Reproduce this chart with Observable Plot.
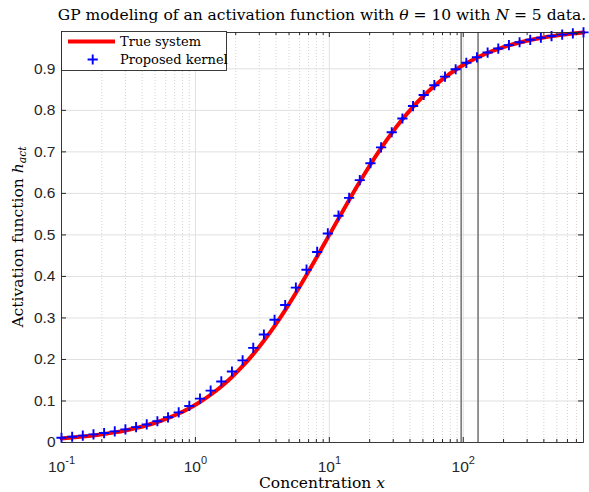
<!DOCTYPE html>
<html><head><meta charset="utf-8">
<script src="https://cdn.jsdelivr.net/npm/d3@7"></script>
<script src="https://cdn.jsdelivr.net/npm/@observablehq/plot@0.6"></script>
<style>html,body{margin:0;padding:0;background:#fff;} svg{display:block}</style>
</head><body><div id="chart"></div>
<script>
// Concentration x (log-spaced samples)
const concentration = [0.1000,0.1201,0.1442,0.1733,0.2081,0.2499,0.3001,0.3605,0.4330,0.5200,
  0.6245,0.7500,0.9008,1.0819,1.2994,1.5606,1.8743,2.2510,2.7035,3.2468,
  3.8994,4.6833,5.6247,6.7553,8.1131,9.7441,11.703,14.056,16.881,20.274,
  24.350,29.245,35.124,42.185,50.665,60.850,73.082,87.774,105.42,126.61,
  152.06,182.63,219.35,263.44,316.40,380.00,456.39,548.14,658.34,790.68];
// True system (red line)
const trueSystem = [0.0099,0.0119,0.0142,0.0170,0.0204,0.0244,0.0291,0.0348,0.0415,0.0494,
  0.0588,0.0698,0.0826,0.0976,0.1150,0.1350,0.1579,0.1837,0.2128,0.2451,
  0.2805,0.3190,0.3600,0.4032,0.4479,0.4935,0.5392,0.5843,0.6280,0.6697,
  0.7089,0.7452,0.7784,0.8084,0.8352,0.8589,0.8796,0.8977,0.9134,0.9268,
  0.9383,0.9481,0.9564,0.9634,0.9694,0.9744,0.9786,0.9821,0.9850,0.9875];
// Proposed kernel (blue crosses)
const proposedKernel = [0.0115,0.0138,0.0166,0.0195,0.0228,0.0268,0.0315,0.0370,0.0435,0.0512,
  0.0607,0.0725,0.0880,0.1056,0.1250,0.1470,0.1709,0.1977,0.2278,0.2601,
  0.2955,0.3310,0.3730,0.4162,0.4589,0.5035,0.5462,0.5893,0.6320,0.6727,
  0.7109,0.7472,0.7804,0.8104,0.8370,0.8606,0.8812,0.8990,0.9145,0.9278,
  0.9392,0.9489,0.9571,0.9640,0.9699,0.9748,0.9790,0.9824,0.9853,0.9877];
// Vertical reference lines
const markerLines = [96.5, 129];

const yTicks = [0,0.1,0.2,0.3,0.4,0.5,0.6,0.7,0.8,0.9];
const yTickLabels = ["0","0.1","0.2","0.3","0.4","0.5","0.6","0.7","0.8","0.9"];
const xMajorTicks = [0.1,1,10,100];
const xTickBase = ["10","10","10","10"];
const xTickExp = ["-1","0","1","2"];
const xMinorTicks = [0.2,0.3,0.4,0.5,0.6,0.7,0.8,0.9,2,3,4,5,6,7,8,9,20,30,40,50,60,70,80,90,200,300,400,500,600,700];

const titleParts = [["GP modeling of an activation function with ",""],["θ","i"],[" = 10 with ",""],["N","i"],[" = 5 data.",""]];
const xLabelParts = [["Concentration ",""],["x","i"]];
const yLabelParts = [["Activation function ",""],["h","i"],["act","sub"]];
const legendLabels = ["True system","Proposed kernel"];

const rows = concentration.map((x,i)=>({x, h: trueSystem[i], k: proposedKernel[i]}));

const plusSymbol = {draw(ctx, size){ const r = Math.sqrt(size/Math.PI); ctx.moveTo(-r,0); ctx.lineTo(r,0); ctx.moveTo(0,-r); ctx.lineTo(0,r); }};

const W = 589, H = 492, mL = 61, mR = 6, mT = 32, mB = 50;
const innerW = W - mL - mR, innerH = H - mT - mB;
const AX = "#262626";

const svg = Plot.plot({
  width: W, height: H,
  marginLeft: mL, marginRight: mR, marginTop: mT, marginBottom: mB,
  style: {background: "#fff", color: AX, fontFamily: "'Liberation Sans', Arial, sans-serif", fontSize: "15.5px"},
  x: {type: "log", axis: null, domain: [concentration[0], concentration[concentration.length-1]]},
  y: {domain: [0, d3.max(trueSystem)]},
  marks: [
    Plot.ruleX(xMinorTicks, {stroke: "#d2d2d2", strokeWidth: 1, strokeDasharray: "1,2"}),
    Plot.ruleX(xMajorTicks, {stroke: "#e0e0e0", strokeWidth: 1}),
    Plot.ruleY(yTicks.slice(1), {stroke: "#e0e0e0", strokeWidth: 1}),
    Plot.ruleX(markerLines, {stroke: "#808080", strokeWidth: 1.7}),
    Plot.line(rows, {x: "x", y: "h", stroke: "#ff0000", strokeWidth: 4, curve: "monotone-x"}),
    Plot.dot(rows, {x: "x", y: "k", symbol: plusSymbol, r: 5.1, stroke: "#0000ff", strokeWidth: 1.9, fill: "none"}),
    Plot.frame({stroke: AX, strokeWidth: 0.9}),
    Plot.tickX(xMajorTicks, {x: d=>d, insetTop: innerH-5, stroke: AX}),
    Plot.tickX(xMajorTicks, {x: d=>d, insetBottom: innerH-5, stroke: AX}),
    Plot.tickX(xMinorTicks, {x: d=>d, insetTop: innerH-3, stroke: AX}),
    Plot.tickX(xMinorTicks, {x: d=>d, insetBottom: innerH-3, stroke: AX}),
    Plot.tickY(yTicks, {y: d=>d, insetRight: innerW-5, stroke: AX}),
    Plot.tickY(yTicks, {y: d=>d, insetLeft: innerW-5, stroke: AX}),
    Plot.axisY({ticks: yTicks, tickSize: 0, tickPadding: 6, label: null, tickFormat: d => yTickLabels[yTicks.indexOf(d)]}),
    Plot.text(xMajorTicks, {x: d=>d, frameAnchor: "bottom", dy: 29, lineAnchor: "bottom", textAnchor: "middle",
      text: d => xTickBase[xMajorTicks.indexOf(d)]})
  ]
});
document.getElementById("chart").appendChild(svg);

const S = d3.select(svg);
// superscripts on x tick labels
S.selectAll('g[aria-label="text"] text').each(function(d,i){
  const t = d3.select(this); t.text("");
  t.append("tspan").text(xTickBase[i]);
  t.append("tspan").attr("dy","-8").attr("font-size","11px").text(xTickExp[i]);
});

const SERIF = "'DejaVu Serif', serif";
function richText(g, parts, size){
  const t = g.append("text").attr("font-family", SERIF).attr("font-size", size+"px").attr("fill","#000");
  parts.forEach(([s,f])=>{
    const ts = t.append("tspan").text(s);
    if (f==="i") ts.attr("font-style","italic");
    if (f==="sub") ts.attr("font-style","italic").attr("font-size",(size*0.7)+"px").attr("dy","3");
  });
  return t;
}
const cx = mL + innerW/2;
richText(S, titleParts, 15.5).attr("x", cx).attr("y", 20).attr("text-anchor","middle");
richText(S, xLabelParts, 15.5).attr("x", cx).attr("y", 488).attr("text-anchor","middle");
richText(S, yLabelParts, 15.5).attr("text-anchor","middle").attr("transform", `translate(23,${mT+innerH/2}) rotate(-90)`);

// legend
const lg = S.append("g");
lg.append("rect").attr("x",61.5).attr("y",31.5).attr("width",165).attr("height",39).attr("fill","#fff").attr("stroke",AX).attr("stroke-width",0.9);
lg.append("line").attr("x1",68).attr("x2",115).attr("y1",41.5).attr("y2",41.5).attr("stroke","#ff0000").attr("stroke-width",4);
lg.append("path").attr("d","M87.6,59.5h10.2M92.7,54.4v10.2").attr("stroke","#0000ff").attr("stroke-width",1.9);
lg.append("text").attr("x",120).attr("y",46).attr("text-anchor","start").attr("font-family",SERIF).attr("font-size","13px").attr("fill","#000").text(legendLabels[0]);
lg.append("text").attr("x",120).attr("y",63.5).attr("text-anchor","start").attr("font-family",SERIF).attr("font-size","13px").attr("fill","#000").text(legendLabels[1]);
</script>
</body></html>
